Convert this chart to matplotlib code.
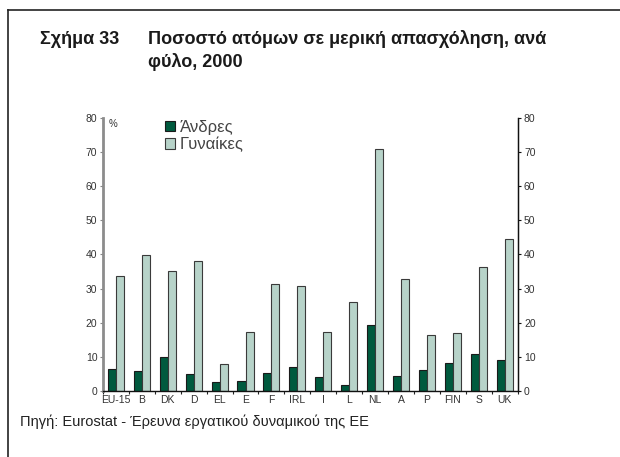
import matplotlib

matplotlib.use("Agg")
import matplotlib.pyplot as plt
import numpy as np
from matplotlib.lines import Line2D

plt.rcParams["font.family"] = ["Liberation Sans", "DejaVu Sans"]

countries = ["EU-15", "B", "DK", "D", "EL", "E", "F", "IRL", "I", "L",
             "NL", "A", "P", "FIN", "S", "UK"]
men = [6.4, 6.0, 10.1, 4.9, 2.7, 2.9, 5.4, 7.1, 4.0, 1.8,
       19.2, 4.4, 6.2, 8.1, 10.8, 9.1]
women = [33.6, 39.8, 35.1, 38.0, 7.8, 17.2, 31.2, 30.7, 17.4, 26.0,
         70.7, 32.8, 16.4, 16.9, 36.4, 44.4]
series_labels = ["Άνδρες", "Γυναίκες"]
yticks = [0, 10, 20, 30, 40, 50, 60, 70, 80]

dark = "#005a3e"
light = "#b7d3c9"
txt = "#333333"

fig = plt.figure(figsize=(6.2, 4.57), dpi=100)
ax = fig.add_axes([0.166, 0.1444, 0.669, 0.598])

x = np.arange(len(countries))
w = 0.31
ax.bar(x - w / 2, men, w, color=dark, edgecolor="#1a1a1a", linewidth=0.8, label=series_labels[0])
ax.bar(x + w / 2, women, w, color=light, edgecolor="#3a3a3a", linewidth=0.8, label=series_labels[1])

ax.set_xlim(-0.5, len(countries) - 0.5)
ax.set_ylim(0, 80)
ax.set_yticks(yticks)
ax.set_xticks(x)
ax.set_xticklabels(countries, fontsize=7.5, color=txt)
ax.set_xticks(np.arange(len(countries) + 1) - 0.5, minor=True)
ax.tick_params(axis="x", which="major", length=0, pad=3)
ax.tick_params(axis="x", which="minor", length=2.5, width=0.8, direction="out", color="#222222")
ax.tick_params(axis="y", labelsize=7.5, labelcolor=txt, length=2, width=0.8, color="#888888", pad=2)

ax.spines["top"].set_visible(False)
ax.spines["left"].set_color("#8c8c8c")
ax.spines["left"].set_linewidth(2)
ax.spines["right"].set_color("#111111")
ax.spines["right"].set_linewidth(1)
ax.spines["bottom"].set_color("#111111")
ax.spines["bottom"].set_linewidth(1)

ax2 = ax.twinx()
ax2.set_ylim(0, 80)
ax2.set_yticks(yticks)
ax2.tick_params(axis="y", labelsize=7.5, labelcolor=txt, length=2.5, width=0.8, color="#111111", pad=2)
for s in ["top", "left", "bottom"]:
    ax2.spines[s].set_visible(False)
ax2.spines["right"].set_color("#111111")

fig.text(109 / 620, 1 - 124 / 457, "%", fontsize=7, color=txt, va="center", ha="left")

leg = ax.legend(loc="upper left", bbox_to_anchor=(165 / 620, 1 - 120 / 457),
                bbox_transform=fig.transFigure, frameon=False,
                fontsize=12, handlelength=0.6, handleheight=0.6, handletextpad=0.3,
                labelspacing=0.12, borderaxespad=0, borderpad=0)
for t in leg.get_texts():
    t.set_color("#444444")

# figure frame: top and left lines
fig.add_artist(Line2D([8 / 620, 1.0], [1 - 10 / 457, 1 - 10 / 457], color="#222222", linewidth=1.2))
fig.add_artist(Line2D([8 / 620, 8 / 620], [0, 1 - 10 / 457], color="#222222", linewidth=1.2))

fig.text(40 / 620, 1 - 39 / 457, "Σχήμα 33", fontsize=13, fontweight="bold", color="#1a1a1a", va="center")
fig.text(148 / 620, 1 - 39 / 457, "Ποσοστό ατόμων σε μερική απασχόληση, ανά",
         fontsize=13, fontweight="bold", color="#1a1a1a", va="center")
fig.text(148 / 620, 1 - 62 / 457, "φύλο, 2000", fontsize=13, fontweight="bold", color="#1a1a1a", va="center")

fig.text(20 / 620, 1 - 422 / 457, "Πηγή: Eurostat - Έρευνα εργατικού δυναμικού της ΕΕ",
         fontsize=10.5, color="#222222", va="center")

fig.savefig("out.png", dpi=100)
plt.close(fig)
